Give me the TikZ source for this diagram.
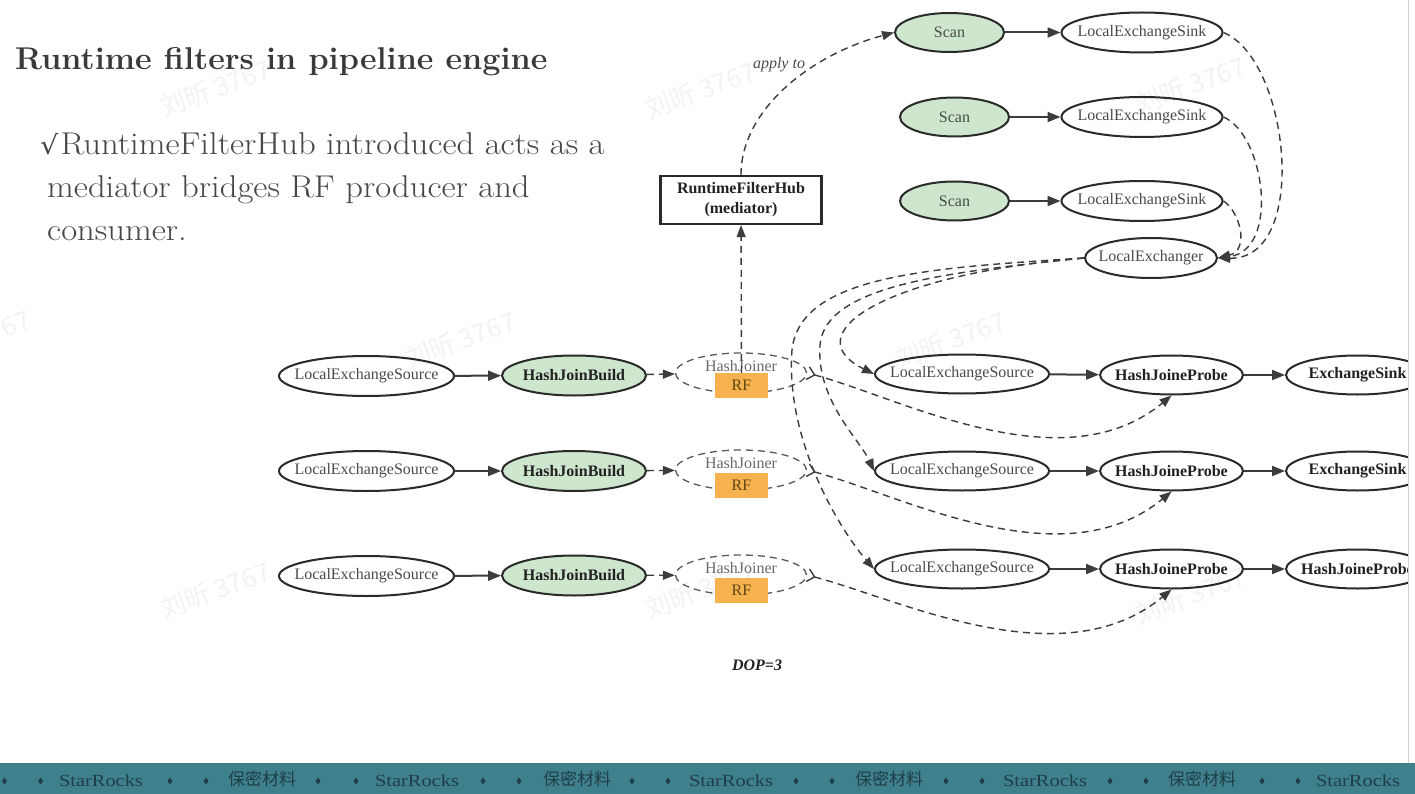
\documentclass[tikz,border=0pt]{standalone}
\usepackage{fontspec}
\newfontfamily\gv{Liberation Serif}
\newfontfamily\dv{DejaVu Sans}
\newfontfamily\bandfont[FakeStretch=1.2]{Liberation Serif}
\newfontfamily\cjk{Noto Sans CJK SC}
\usetikzlibrary{arrows.meta,shapes.geometric}

\definecolor{nodeline}{HTML}{2A2A2A}
\definecolor{edgecol}{HTML}{3C3C3C}
\definecolor{txtgray}{HTML}{4A4A4A}
\definecolor{txtdark}{HTML}{222222}
\definecolor{greenfill}{HTML}{CDE6CD}
\definecolor{rffill}{HTML}{F6B24E}
\definecolor{rftext}{HTML}{5E4514}
\definecolor{joinline}{HTML}{5A5A5A}
\definecolor{joinertext}{HTML}{6A6A6A}
\definecolor{titlecol}{HTML}{3A3A3A}
\definecolor{bodycol}{HTML}{474747}
\definecolor{band}{HTML}{3E808C}
\definecolor{bandtext}{HTML}{1F3E47}
\definecolor{wmcol}{HTML}{F3F3F3}

\begin{document}
\begin{tikzpicture}[x=1pt,y=-1pt,
  lbl/.style={font=\gv\fontsize{16}{18}\selectfont, text=txtgray, inner sep=0pt},
  lblb/.style={font=\gv\bfseries\fontsize{16}{18}\selectfont, text=txtdark, inner sep=0pt},
  oval/.style n args={3}{ellipse, draw=nodeline, line width=2pt, minimum width=#1,
    minimum height=#2, inner sep=0pt, label={[lbl]center:#3}},
  ovalb/.style n args={3}{ellipse, draw=nodeline, line width=2pt, minimum width=#1,
    minimum height=#2, inner sep=0pt, label={[lblb]center:#3}},
  gfill/.style={fill=greenfill},
  joiner/.style={ellipse, draw=joinline, line width=1.3pt, dash pattern=on 7pt off 5pt,
    minimum width=131, minimum height=40, inner sep=0pt},
  rfbox/.style={rectangle, fill=rffill, minimum width=53, minimum height=25, inner sep=0pt,
    font=\gv\fontsize{16}{18}\selectfont, text=rftext},
  jtext/.style={font=\gv\fontsize{16}{18}\selectfont, text=joinertext, inner sep=0pt},
  solidedge/.style={draw=edgecol, line width=2pt, -{Triangle[length=13pt,width=10pt]}},
  dashedge/.style={draw=edgecol, line width=1.4pt, dash pattern=on 7pt off 5pt,
    -{Triangle[length=12pt,width=9pt]}},
  crow/.style={{Straight Barb[reversed,length=7pt,width=13pt]}-{Triangle[length=12pt,width=9pt]}},
  wm/.style={font=\cjk\fontsize{26}{30}\selectfont, text=wmcol, rotate=20, inner sep=0pt},
  bodyline/.style={anchor=base west, inner sep=0pt, font=\fontsize{31.5}{36}\selectfont,
    text=bodycol, xscale=1.1, transform shape},
]
\useasboundingbox (0,0) rectangle (1415,794);
\fill[white] (0,0) rectangle (1415,794);

% faint watermarks
\foreach \wx/\wy/\k in {215/88/1, 700/90/2, 1190/85/3, -25/338/4, 460/340/5,
                        950/340/6, 215/590/7, 700/590/8, 1190/595/9}
  \node[wm] (wm\k) at (\wx,\wy) {刘昕 3767};

% heading and bullet
\node[anchor=base west, inner sep=0pt, font=\bfseries\fontsize{31.5}{36}\selectfont, text=titlecol,
  xscale=1.025, transform shape]
  (title) at (15,70) {Runtime filters in pipeline engine};
\node[bodyline] (body1) at (40,155) {{\dv\fontsize{26}{30}\selectfont √}\hspace{2pt}RuntimeFilterHub introduced acts as a};
\node[bodyline] (body2) at (47,198) {mediator bridges RF producer and};
\node[bodyline] (body3) at (47,241) {consumer.};

\begin{scope}
\clip (0,0) rectangle (1408,763);

% scan pipelines
\node[oval={109}{39}{Scan}, gfill] (sc1) at (949.5,32.5) {};
\node[oval={109}{39}{Scan}, gfill] (sc2) at (954.5,117) {};
\node[oval={109}{39}{Scan}, gfill] (sc3) at (954.5,201) {};
\node[oval={161}{40}{LocalExchangeSink}] (sk1) at (1142,32.5) {};
\node[oval={161}{40}{LocalExchangeSink}] (sk2) at (1142,117) {};
\node[oval={161}{40}{LocalExchangeSink}] (sk3) at (1142,201) {};
\node[oval={132}{40}{LocalExchanger}] (ex) at (1151,258) {};

% mediator
\node[draw=nodeline, line width=2.2pt, minimum width=161, minimum height=48, inner sep=0pt,
  align=center, font=\gv\bfseries\fontsize{16}{20}\selectfont, text=txtdark]
  (hub) at (741,200) {RuntimeFilterHub\\(mediator)};
\node[font=\gv\itshape\fontsize{16}{18}\selectfont, text=txtgray, inner sep=0pt]
  (applyto) at (779,65) {apply to};

% build side
\node[oval={175}{40}{LocalExchangeSource}] (ls1) at (366.5,376) {};
\node[oval={175}{40}{LocalExchangeSource}] (ls2) at (366.5,471) {};
\node[oval={175}{40}{LocalExchangeSource}] (ls3) at (366.5,576) {};
\node[ovalb={144}{40}{HashJoinBuild}, gfill] (hb1) at (574,375.5) {};
\node[ovalb={144}{40}{HashJoinBuild}, gfill] (hb2) at (574,471) {};
\node[ovalb={144}{40}{HashJoinBuild}, gfill] (hb3) at (574,575.5) {};

\node[joiner] (hj1) at (741,373) {};
\node[joiner] (hj2) at (741,470) {};
\node[joiner] (hj3) at (741,575) {};
\node[jtext] (hjt1) at (741,366) {HashJoiner};
\node[jtext] (hjt2) at (741,463) {HashJoiner};
\node[jtext] (hjt3) at (741,568) {HashJoiner};
\node[rfbox] (rf1) at (741.5,385.5) {RF};
\node[rfbox] (rf2) at (741.5,485) {RF};
\node[rfbox] (rf3) at (741.5,590) {RF};

% probe side
\node[oval={174}{39}{LocalExchangeSource}] (lr1) at (962,374) {};
\node[oval={174}{39}{LocalExchangeSource}] (lr2) at (962,471) {};
\node[oval={174}{39}{LocalExchangeSource}] (lr3) at (962,569) {};
\node[ovalb={143}{39}{HashJoineProbe}] (hp1) at (1171.5,375) {};
\node[ovalb={143}{39}{HashJoineProbe}] (hp2) at (1171.5,471) {};
\node[ovalb={143}{39}{HashJoineProbe}] (hp3) at (1171.5,569) {};
\node[ovalb={143}{39}{ExchangeSink}] (es1) at (1357.5,375) {};
\node[ovalb={143}{39}{ExchangeSink}] (es2) at (1357.5,471) {};
\node[ovalb={143}{39}{HashJoineProbe}] (es3) at (1357.5,569) {};

% solid pipeline edges
\foreach \i in {1,2,3}{
  \draw[solidedge] (ls\i) -- (hb\i);
  \draw[solidedge] (lr\i) -- (hp\i);
  \draw[solidedge] (hp\i) -- (es\i);
  \draw[solidedge] (sc\i) -- (sk\i);
  \draw[dashedge] (hb\i) -- (hj\i);
}

% runtime filter flow
\draw[dashedge] (rf1) -- (hub);
\draw[dashedge] (hub.north) .. controls (741,110) and (810,55) .. (sc1.west);
\foreach \i in {1,2,3}
  \draw[dashedge, crow] (hj\i.east) .. controls +(94,25) and +(-109,90) .. (hp\i.south);

% local exchange
\draw[dashedge] (sk1.east) .. controls (1290,60) and (1310,260) .. (ex.east);
\draw[dashedge] (sk2.east) .. controls (1265,135) and (1280,250) .. (ex.east);
\draw[dashedge] (sk3.east) .. controls (1240,212) and (1250,250) .. (ex.east);

\coordinate (bend2) at (820,345);
\coordinate (bend3) at (792,350);
\draw[dashedge] (ex.west) .. controls (880,275) and (795,335) .. (lr1.west);
\draw[dashedge] (ex.west) .. controls (950,272) and (825,285) .. (bend2)
  .. controls (816,400) and (860,440) .. (lr2.west);
\draw[dashedge] (ex.west) .. controls (930,268) and (800,275) .. (bend3)
  .. controls (785,440) and (840,530) .. (lr3.west);
\end{scope}

\draw[black!18, line width=1pt] (1408.5,0) -- (1408.5,763);

\node[font=\gv\bfseries\itshape\fontsize{16}{18}\selectfont, text=txtdark, inner sep=0pt]
  (dop) at (757,665) {DOP=3};

% footer band
\fill[band] (0,763) rectangle (1415,794);
\foreach \dx in {4.5,40.6,170,206,318,356,483,519,632,668,796,832,946,982,1110,1146,1262,1298}
  \fill[bandtext] (\dx,777.5) -- (\dx+2.5,781) -- (\dx,784.5) -- (\dx-2.5,781) -- cycle;
\foreach \fx/\k in {101/1,417/2,731/3,1045/4,1358/5}
  \node[font=\bandfont\fontsize{17}{20}\selectfont, text=bandtext, inner sep=0pt] (sr\k) at (\fx,781) {StarRocks};
\foreach \fx/\k in {262/1,577/2,889/3,1202/4}
  \node[font=\cjk\fontsize{17}{20}\selectfont, text=bandtext, inner sep=0pt] (bm\k) at (\fx,779) {保密材料};
\end{tikzpicture}
\end{document}
